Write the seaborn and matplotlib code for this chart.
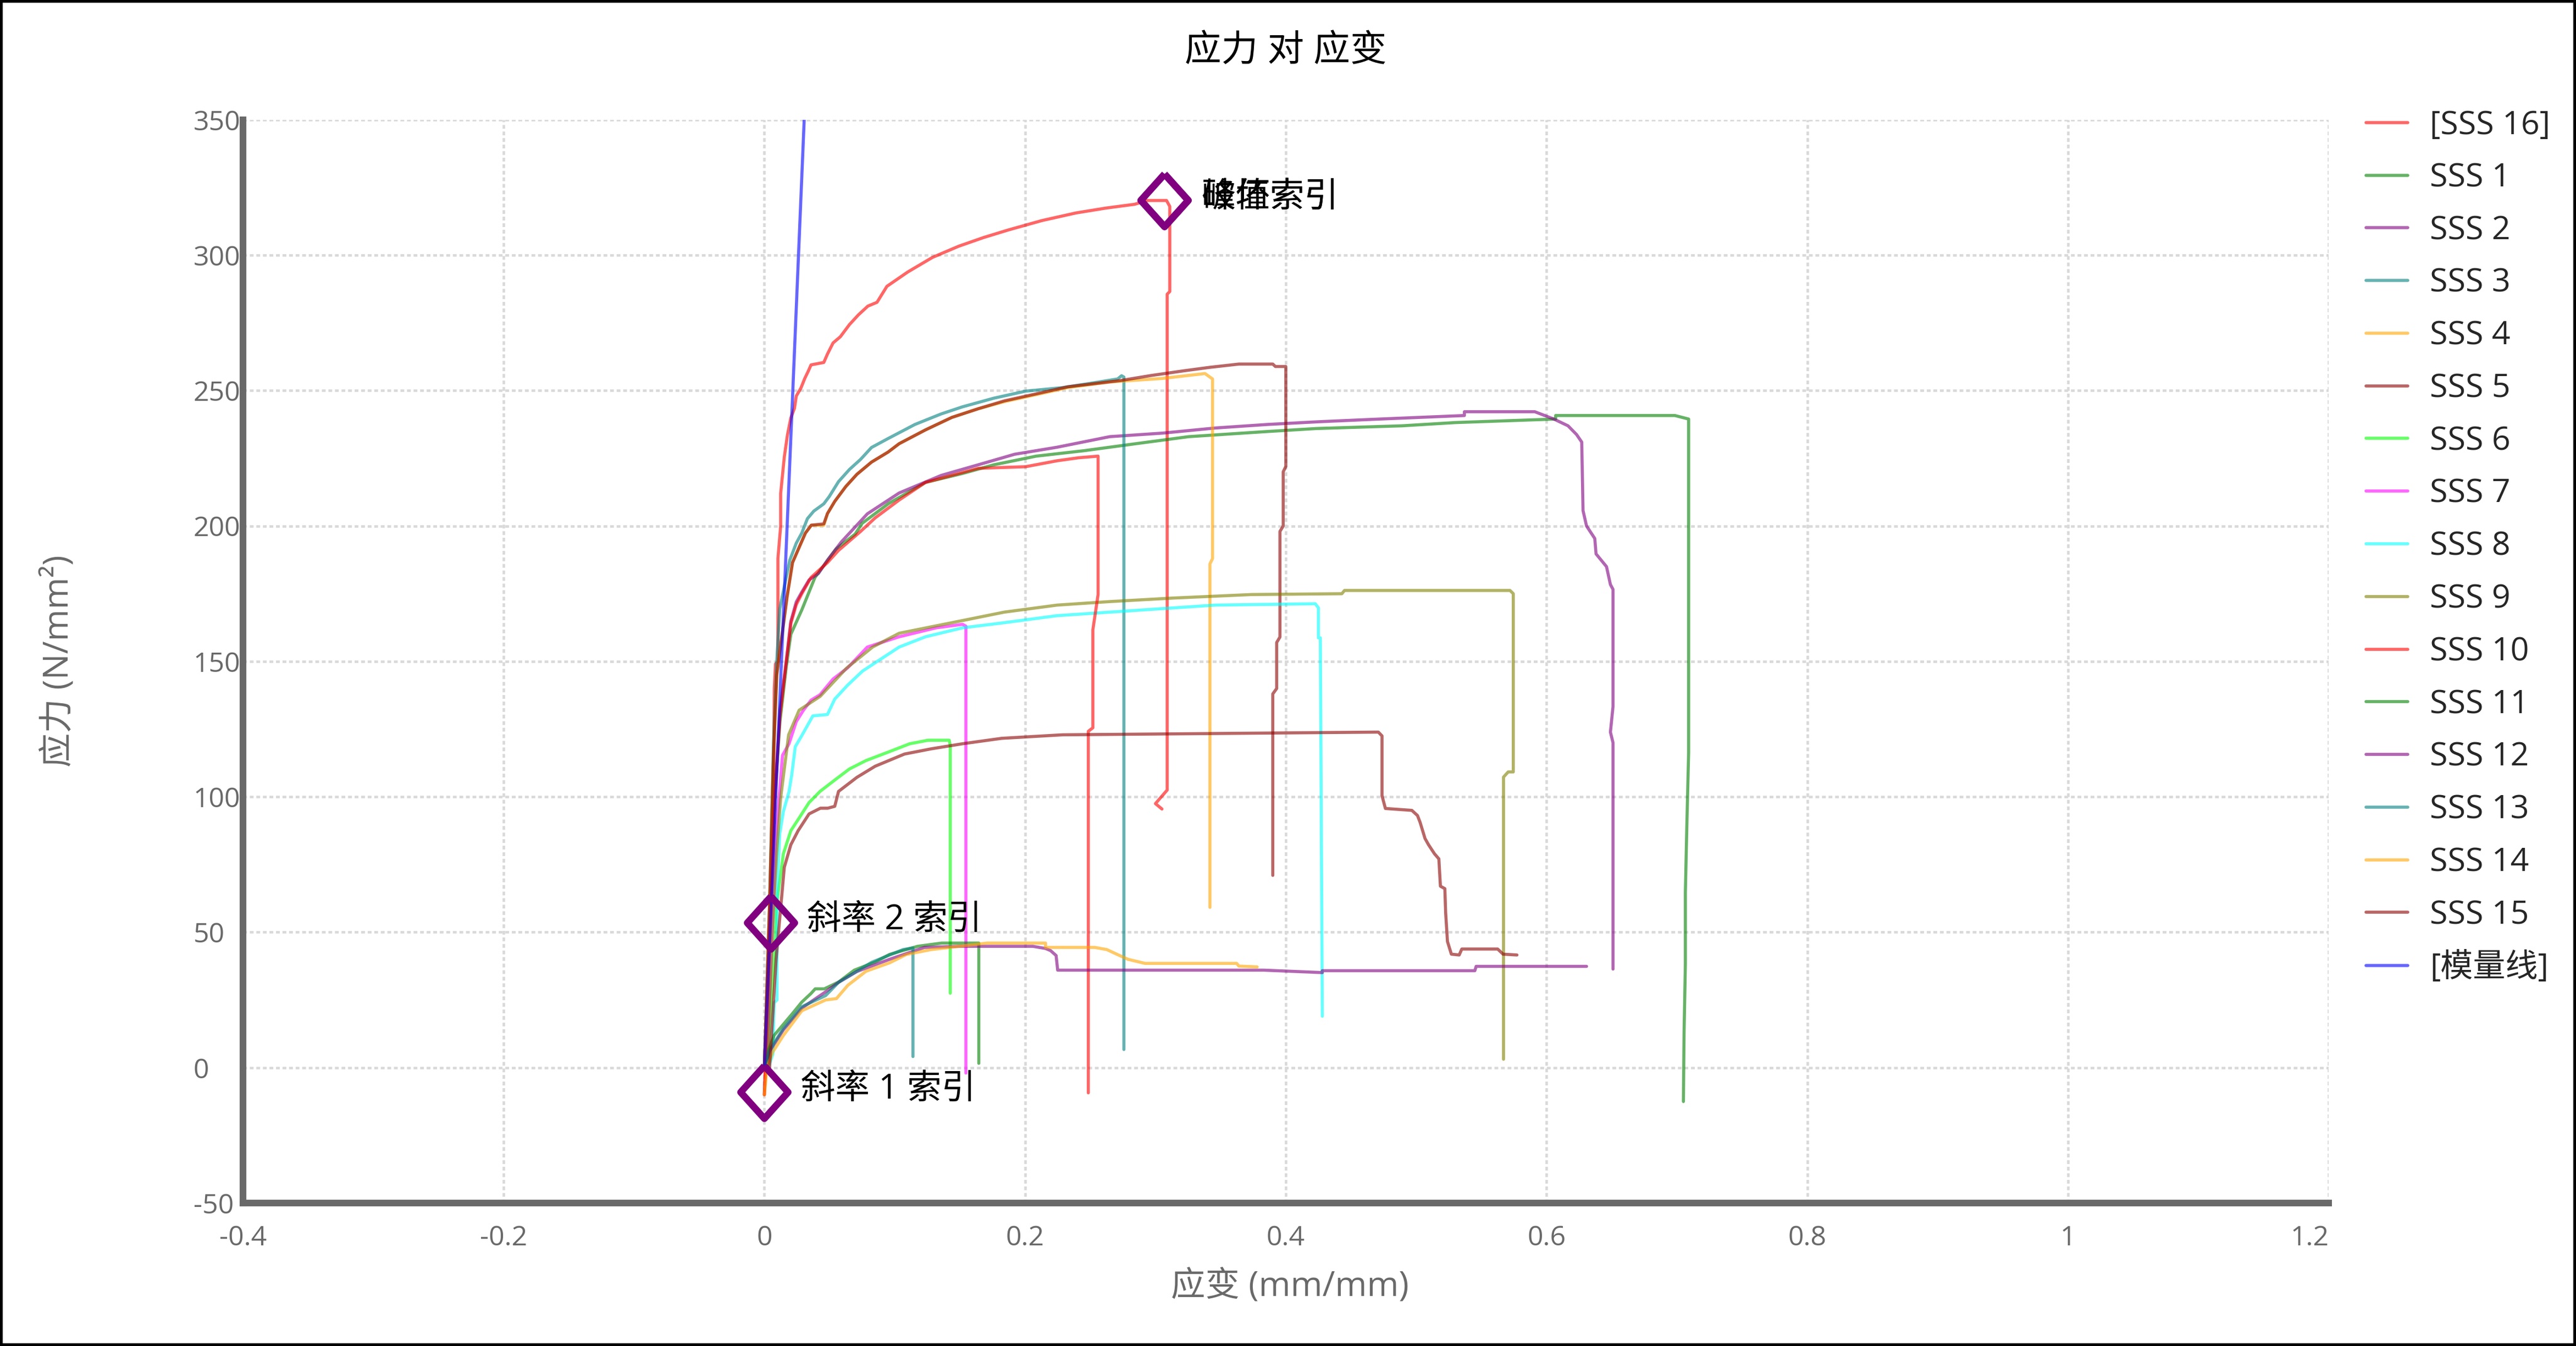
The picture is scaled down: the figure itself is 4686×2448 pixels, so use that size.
import logging

import numpy as np
import pandas as pd
from matplotlib import pyplot as plt
from matplotlib.lines import Line2D
from matplotlib.patches import Rectangle
import seaborn as sns

LOG = logging.getLogger(__name__)

####### Data #######

SPECIMENS = ['[SSS 16]', 'SSS 1', 'SSS 2', 'SSS 3', 'SSS 4', 'SSS 5', 'SSS 6', 'SSS 7',
             'SSS 8', 'SSS 9', 'SSS 10', 'SSS 11', 'SSS 12', 'SSS 13', 'SSS 14', 'SSS 15',
             '[模量线]']
COLORS = ['#FF0000', '#008000', '#800080', '#008080', '#FFA500', '#8B0000', '#00FF00',
          '#FF00FF', '#00FFFF', '#808000', '#FF0000', '#008000', '#800080', '#008080',
          '#FFA500', '#8B0000', '#0000FF']

# (strain mm/mm, stress N/mm2)
sss16 = [(0.0, -10), (0.002, 10), (0.0047, 53.5), (0.007, 100), (0.0076, 140), (0.0085, 149),
         (0.0104, 150), (0.0104, 188), (0.0125, 200), (0.0125, 212), (0.0153, 225.5),
         (0.0177, 233.6), (0.0203, 239.9), (0.0231, 243.5), (0.0245, 248), (0.028, 250.9),
         (0.031, 254.5), (0.0337, 257.2), (0.0358, 259.5), (0.0456, 260.4), (0.0484, 263.5),
         (0.0527, 267.6), (0.0583, 269.9), (0.0653, 274.4), (0.0722, 278), (0.0794, 281.2),
         (0.0864, 282.6), (0.094, 288.5), (0.110, 293.8), (0.129, 299.2), (0.149, 303.3),
         (0.168, 306.5), (0.187, 309.3), (0.213, 312.8), (0.239, 315.6), (0.262, 317.4),
         (0.284, 318.8), (0.294, 320.2), (0.3085, 320.2), (0.311, 318), (0.311, 286.6),
         (0.309, 285.6), (0.309, 102.5), (0.300, 97.5), (0.305, 95.5)]
sss1 = [(0.0, 0), (0.004, 50), (0.008, 100), (0.012, 128), (0.0168, 148), (0.0203, 160),
        (0.0287, 169), (0.0388, 181), (0.055, 191.5), (0.0696, 197), (0.075, 201),
        (0.0953, 208.3), (0.1236, 216.1), (0.152, 219.4), (0.176, 222.6), (0.2085, 225.8),
        (0.245, 227.8), (0.285, 230.4), (0.3256, 233), (0.386, 234.9), (0.4234, 236),
        (0.489, 237), (0.530, 238.2), (0.607, 239.5), (0.607, 240.8), (0.6985, 240.8),
        (0.709, 239.5), (0.709, 116.4), (0.7077, 90.8), (0.7065, 64.7), (0.7065, 38.3),
        (0.7055, 12.9), (0.705, -12.5)]
sss2 = [(0.0, 0), (0.004, 50), (0.008, 100), (0.012, 132), (0.0168, 150), (0.0203, 164.8),
        (0.0245, 172), (0.0287, 175.6), (0.0343, 180.1), (0.0415, 182.5), (0.0484, 187.4),
        (0.059, 194.1), (0.079, 204.5), (0.1034, 212.2), (0.1357, 218.7), (0.164, 222.6),
        (0.192, 226.5), (0.2246, 229.1), (0.265, 233), (0.3054, 234.3), (0.346, 236.2),
        (0.386, 237.5), (0.425, 238.5), (0.472, 239.5), (0.537, 240.8), (0.537, 242.2),
        (0.591, 242.2), (0.6056, 239.5), (0.6165, 237), (0.623, 233.8), (0.627, 231),
        (0.628, 205.7), (0.6307, 200), (0.637, 195.4), (0.638, 189.7), (0.646, 185),
        (0.649, 178.4), (0.651, 176.6), (0.651, 133.3), (0.649, 123.9), (0.651, 120),
        (0.651, 36.4)]
sss3 = [(0.0, 0), (0.004, 60), (0.007, 120), (0.0095, 150), (0.0118, 169.4), (0.0195, 187.4),
        (0.0245, 193.7), (0.0287, 197.4), (0.033, 202.7), (0.0379, 205.5), (0.0456, 208.2),
        (0.0498, 210.9), (0.0569, 216.4), (0.0653, 220.9), (0.0738, 224.6), (0.0822, 229),
        (0.0949, 232.3), (0.1155, 237.5), (0.1357, 241.4), (0.1519, 244), (0.176, 247.2),
        (0.2004, 249.8), (0.2287, 251.1), (0.249, 252.6), (0.271, 254.3), (0.274, 255.5),
        (0.2758, 255), (0.2758, 6.7)]
sss4 = [(0.0, 0), (0.004, 60), (0.007, 115), (0.0095, 145), (0.0174, 173.8), (0.0216, 186.5),
        (0.0273, 192.8), (0.0315, 197.4), (0.036, 200.3), (0.0456, 200.3), (0.0484, 204.6),
        (0.054, 209.1), (0.0625, 214.6), (0.071, 219.1), (0.0822, 223.6), (0.0949, 227.3),
        (0.1034, 230.4), (0.1236, 235.5), (0.1438, 240.1), (0.164, 243.3), (0.184, 245.9),
        (0.2085, 248.5), (0.2327, 251.1), (0.265, 253.2), (0.3054, 254.5), (0.338, 256.3),
        (0.3438, 254.3), (0.3438, 188), (0.3418, 186), (0.3418, 59.2)]
sss5 = [(0.0, 0), (0.004, 60), (0.007, 115), (0.0095, 145), (0.0174, 173.8), (0.0216, 186.5),
        (0.0273, 192.8), (0.0315, 197.4), (0.036, 200.3), (0.0456, 200.8), (0.0484, 204.6),
        (0.054, 209.1), (0.0625, 214.6), (0.071, 219.1), (0.0822, 223.6), (0.0949, 227.3),
        (0.1034, 230.4), (0.1236, 235.5), (0.1438, 240.1), (0.164, 243.3), (0.184, 246.2),
        (0.2085, 248.8), (0.2327, 251.4), (0.273, 253.7), (0.297, 255.6), (0.3216, 257.3),
        (0.3418, 258.6), (0.364, 259.8), (0.390, 259.8), (0.392, 258.9), (0.400, 258.9),
        (0.400, 222), (0.398, 220), (0.398, 200), (0.3955, 198), (0.3955, 159), (0.393, 157),
        (0.393, 140), (0.390, 138), (0.390, 71)]
sss6 = [(0.002, 0), (0.006, 30), (0.008, 45), (0.0093, 60), (0.0146, 79), (0.0203, 87.5),
        (0.0259, 91.6), (0.0343, 97.9), (0.0427, 102), (0.054, 106.2), (0.0653, 110.3),
        (0.078, 113.4), (0.0949, 116.5), (0.1115, 119.6), (0.1256, 120.9), (0.1418, 120.9),
        (0.1426, 119), (0.1426, 27.5)]
sss7 = [(0.002, 0), (0.006, 50), (0.009, 85), (0.011, 98), (0.0125, 107), (0.0139, 115.3),
        (0.0189, 119.6), (0.0245, 127.8), (0.03, 132), (0.0358, 135.7), (0.0427, 137.7),
        (0.0527, 143.5), (0.0638, 147.6), (0.079, 155.3), (0.1034, 159.1), (0.1317, 162.4),
        (0.152, 163.7), (0.1546, 163), (0.1546, -2)]
sss8 = [(0.003, 0), (0.0065, 5), (0.0075, 24), (0.0097, 25), (0.0097, 64.6), (0.0118, 86.4),
        (0.0146, 94.6), (0.0189, 101.9), (0.021, 108.1), (0.0237, 118.5), (0.0287, 122.6),
        (0.0372, 129.9), (0.0484, 130.4), (0.054, 136.1), (0.0638, 141.2), (0.0752, 146.4),
        (0.085, 149.5), (0.1034, 155.3), (0.1236, 159.1), (0.152, 162.4), (0.184, 164.3),
        (0.2246, 166.9), (0.265, 168.2), (0.3054, 169.5), (0.346, 170.8), (0.4226, 171.3),
        (0.425, 169.8), (0.425, 158.7), (0.4265, 158.7), (0.428, 19)]
sss9 = [(0.002, 0), (0.006, 50), (0.0095, 80), (0.0125, 99.6), (0.0186, 122.9), (0.0267, 132),
        (0.0428, 137.1), (0.063, 147.5), (0.083, 155.3), (0.1034, 160.4), (0.1438, 164.3),
        (0.184, 168.2), (0.2246, 170.8), (0.265, 172.1), (0.3135, 173.4), (0.374, 174.7),
        (0.443, 175), (0.445, 176.2), (0.572, 176.2), (0.5745, 175), (0.5745, 109.2),
        (0.5706, 109.2), (0.567, 107.3), (0.567, 3.1)]
sss10 = [(0.0, -10), (0.004, 50), (0.008, 100), (0.012, 130), (0.0168, 150), (0.0203, 164),
         (0.0245, 171), (0.0287, 175), (0.0358, 181), (0.0484, 186.5), (0.0569, 191),
         (0.0738, 198), (0.085, 203), (0.1034, 209.6), (0.1236, 216.1), (0.1438, 218.7),
         (0.164, 221.3), (0.2004, 221.9), (0.2246, 224.1), (0.241, 225.2), (0.256, 225.8),
         (0.256, 174.7), (0.252, 161.7), (0.252, 125.5), (0.2485, 124.2), (0.2485, -9.3)]
sss11 = [(0.001, 0), (0.0034, 6.7), (0.0076, 12), (0.0146, 16), (0.0216, 20), (0.0287, 24.2),
         (0.0358, 27.4), (0.039, 29.1), (0.046, 29.1), (0.0569, 31.6), (0.069, 36),
         (0.085, 39), (0.096, 41.8), (0.1175, 44.8), (0.136, 46), (0.1645, 46), (0.1645, 1.6)]
sss12 = [(0.001, 0), (0.004, 6), (0.0146, 14), (0.0287, 22), (0.047, 28), (0.0569, 31.5),
         (0.071, 35.5), (0.096, 40), (0.1228, 44.4), (0.1495, 44.8), (0.206, 44.8),
         (0.2157, 44), (0.2196, 43.2), (0.2238, 41.4), (0.225, 36), (0.383, 36),
         (0.428, 35.1), (0.428, 35.8), (0.545, 35.8), (0.546, 37.4), (0.6307, 37.4)]
sss13 = [(0.001, 0), (0.004, 6.5), (0.0146, 14.5), (0.0287, 22.5), (0.047, 26.6),
         (0.0569, 31.5), (0.0823, 38.9), (0.1064, 43.6), (0.114, 44.2), (0.114, 4.1)]
sss14 = [(0.0, -10), (0.002, 0), (0.0062, 5.6), (0.0146, 11.9), (0.0287, 21), (0.047, 25),
         (0.0553, 25.5), (0.064, 30.4), (0.078, 35.6), (0.096, 38.7), (0.109, 41.8),
         (0.128, 43.6), (0.171, 46), (0.2157, 46), (0.2157, 44.4), (0.2534, 44.4),
         (0.2627, 43.6), (0.2707, 41.8), (0.279, 40), (0.292, 38.5), (0.3623, 38.5),
         (0.364, 37.5), (0.378, 37.2)]
sss15 = [(0.004, 0), (0.009, 40), (0.0153, 74), (0.0203, 82.3), (0.0259, 87.5), (0.0343, 93.7),
         (0.043, 95.8), (0.0486, 95.8), (0.054, 96.5), (0.0569, 102), (0.071, 107.2),
         (0.085, 111.3), (0.1075, 115.8), (0.1277, 117.7), (0.152, 119.6), (0.182, 121.6),
         (0.2287, 122.9), (0.471, 123.9), (0.4738, 122.5), (0.4738, 100.4), (0.4764, 95.7),
         (0.4967, 95), (0.501, 93.1), (0.503, 90.6), (0.5068, 84.6), (0.5095, 82.3),
         (0.514, 79), (0.5174, 77.1), (0.5186, 67), (0.522, 66.1), (0.5226, 57.3),
         (0.524, 46.6), (0.527, 41.9), (0.533, 41.6), (0.535, 43.8), (0.5625, 43.8),
         (0.5667, 41.9), (0.5773, 41.6)]
modulus_line = [(0.0, 0.0), (0.0306, 350.5)]

CURVES = [sss16, sss1, sss2, sss3, sss4, sss5, sss6, sss7, sss8, sss9, sss10, sss11,
          sss12, sss13, sss14, sss15, modulus_line]

# index markers on the selected specimen
index_labels = ['斜率 1 索引', '斜率 2 索引', '峰值索引', '破坏索引']
index_strain = [0.0, 0.0047, 0.307, 0.307]
index_stress = [-9.0, 53.5, 320.3, 320.3]

x_ticks = [-0.4, -0.2, 0, 0.2, 0.4, 0.6, 0.8, 1, 1.2]
x_tick_labels = ['-0.4', '-0.2', '0', '0.2', '0.4', '0.6', '0.8', '1', '1.2']
y_ticks = [-50, 0, 50, 100, 150, 200, 250, 300, 350]
y_tick_labels = ['-50', '0', '50', '100', '150', '200', '250', '300', '350']

GRAY = '#696969'
MARKER_PURPLE = '#800080'

####### Helper functions #######

def build_frame():
    """Long form table of every curve"""
    rows = []
    for name, points in zip(SPECIMENS, CURVES):
        for i, (strain, stress) in enumerate(points):
            rows.append({'specimen': name, 'order': i, 'strain': strain, 'stress': stress})
    data = pd.DataFrame(rows)
    data['specimen'] = pd.Categorical(data['specimen'], categories=SPECIMENS, ordered=True)
    return data


def style_axes(ax):
    """Grid, spines and ticks like the reference"""
    ax.set_xlim(-0.4, 1.2)
    ax.set_ylim(-50, 350)
    ax.set_xticks(x_ticks)
    ax.set_xticklabels(x_tick_labels)
    ax.set_yticks(y_ticks)
    ax.set_yticklabels(y_tick_labels)
    ax.grid(True, color='#d9d9d9', linewidth=1.1, linestyle=(0, (1.5, 1.1)))
    ax.set_axisbelow(True)
    for side in ['top', 'right']:
        ax.spines[side].set_visible(False)
    for side in ['left', 'bottom']:
        ax.spines[side].set_color(GRAY)
        ax.spines[side].set_linewidth(2.9)
    ax.tick_params(axis='both', length=0, labelsize=12, labelcolor=GRAY)
    ax.tick_params(axis='x', pad=9.5)
    ax.tick_params(axis='y', pad=21.6)
    for lbl in ax.get_yticklabels():
        lbl.set_ha('left')
    ax.get_xticklabels()[-1].set_ha('right')
    ax.set_xlabel('')
    ax.set_ylabel('')


def main():
    sns.set_theme(style='white')
    plt.rcParams['font.family'] = ['Open Sans', 'Noto Sans CJK SC', 'DejaVu Sans']

    fig = plt.figure(figsize=(15.62, 8.16), dpi=300)
    ax = fig.add_axes([0.0943, 0.1062, 0.8097, 0.8048])

    data = build_frame()
    palette = dict(zip(SPECIMENS, COLORS))
    sns.lineplot(data=data, x='strain', y='stress', hue='specimen', hue_order=SPECIMENS,
                 palette=palette, sort=False, estimator=None, alpha=0.6, linewidth=1.35,
                 legend=False, ax=ax)

    diamond = [(0, 1), (0.9, 0), (0, -1), (-0.9, 0), (0, 1)]
    ax.plot(index_strain, index_stress, linestyle='none', marker=diamond, markersize=23,
            markerfacecolor='none', markeredgecolor=MARKER_PURPLE, markeredgewidth=3,
            zorder=5)
    for label, sx, sy in zip(index_labels, index_strain, index_stress):
        ax.annotate(label, (sx, sy), xytext=(16, 1), textcoords='offset points',
                    ha='left', va='center', fontsize=15, color='black', zorder=6)

    style_axes(ax)

    fig.text(0.499, 0.962, '应力 对 应变', ha='center', va='center', fontsize=16,
             color='black')
    fig.text(0.023, 0.509, '应力 (N/mm²)', ha='center', va='center', rotation=90,
             fontsize=15, color=GRAY)
    fig.text(0.5007, 0.044, '应变 (mm/mm)', ha='center', va='center', fontsize=15,
             color=GRAY)

    handles = [Line2D([], [], color=c, alpha=0.6, linewidth=1.35) for c in COLORS]
    fig.legend(handles, SPECIMENS, loc='upper left', bbox_to_anchor=(0.9185, 0.9187),
               frameon=False, fontsize=14.2, handlelength=1.29, handletextpad=0.67,
               labelspacing=0.63, borderpad=0, borderaxespad=0)

    fig.add_artist(Rectangle((0, 0), 1, 1, transform=fig.transFigure, fill=False,
                             edgecolor='black', linewidth=2.4, clip_on=False))

    LOG.info("Saving plot to out.png")
    fig.savefig('out.png', dpi=300)


if __name__ == '__main__':
    main()
